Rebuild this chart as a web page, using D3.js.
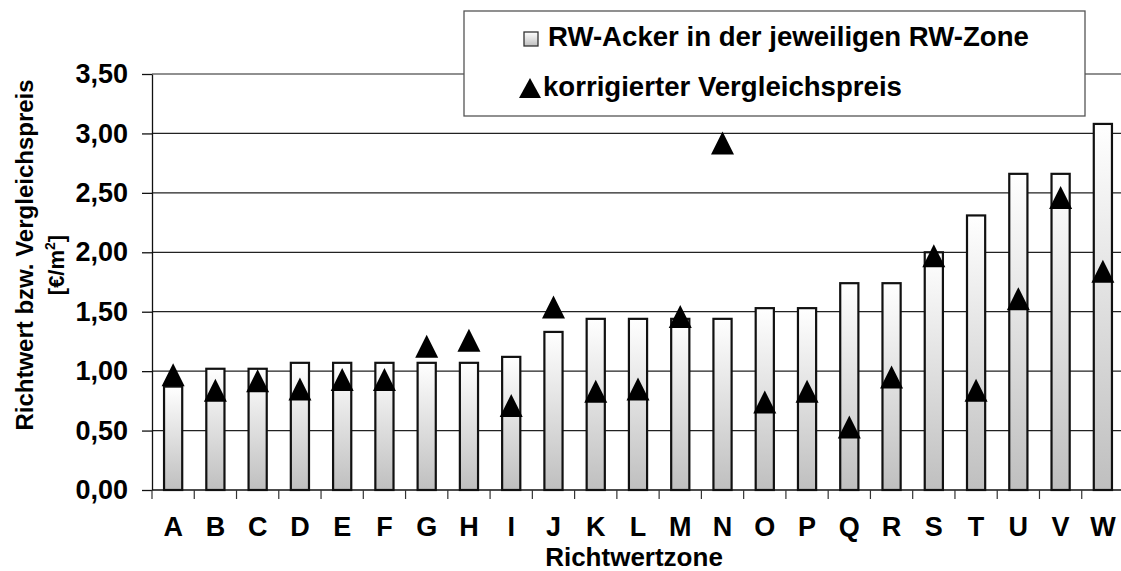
<!DOCTYPE html>
<html>
<head>
<meta charset="utf-8">
<script src="https://cdn.jsdelivr.net/npm/d3@7"></script>
<style>
  body { margin: 0; background: #fff; }
  svg { display: block; font-family: "Liberation Sans", Arial, sans-serif; font-weight: bold; }
</style>
</head>
<body>
<svg id="chart" width="1121" height="571"></svg>
<script>
// Richtwertzonen
var zones = ["A","B","C","D","E","F","G","H","I","J","K","L","M","N","O","P","Q","R","S","T","U","V","W"];
// RW-Acker (bars)
var rwAcker = [0.87,1.02,1.02,1.07,1.07,1.07,1.07,1.07,1.12,1.33,1.44,1.44,1.44,1.44,1.53,1.53,1.74,1.74,2.00,2.31,2.66,2.66,3.08];
// korrigierter Vergleichspreis (triangles)
var vergleich = [0.97,0.84,0.92,0.85,0.93,0.93,1.21,1.26,0.71,1.54,0.83,0.85,1.46,2.92,0.74,0.83,0.53,0.95,1.97,0.84,1.61,2.46,1.84];
var yTicks = [0,0.5,1,1.5,2,2.5,3,3.5];
var legendLabels = ["RW-Acker in der jeweiligen RW-Zone", "korrigierter Vergleichspreis"];

var W = 1121, H = 571;
var pLeft = 152, pRight = 1124, pTop = 74, pBottom = 490;

var svg = d3.select("#chart");

var defs = svg.append("defs");
var grad = defs.append("linearGradient")
    .attr("id","barGrad")
    .attr("x1",0).attr("y1",0).attr("x2",0).attr("y2",1);
grad.append("stop").attr("offset","0%").attr("stop-color","#ffffff");
grad.append("stop").attr("offset","100%").attr("stop-color","#bfbfbf");

var x = d3.scaleBand().domain(zones).range([pLeft, pRight])
    .paddingInner(0.57).paddingOuter(0.285);
var y = d3.scaleLinear().domain([0, 3.5]).range([pBottom, pTop]);

// gridlines
svg.append("g").selectAll("line").data(yTicks.slice(1)).join("line")
    .attr("x1", pLeft).attr("x2", W)
    .attr("y1", function(d){return y(d);}).attr("y2", function(d){return y(d);})
    .attr("stroke","#222").attr("stroke-width",1.2);

// y axis
var yAxis = svg.append("g").attr("transform","translate(" + pLeft + ",0)")
    .call(d3.axisLeft(y).tickValues(yTicks).tickSize(10).tickSizeOuter(0).tickPadding(14)
          .tickFormat(function(d){return d.toFixed(2).replace(".", ",");}));
yAxis.selectAll("line, path").attr("stroke","#111").attr("stroke-width",1.3);
yAxis.selectAll("text").attr("font-size",27).attr("fill","#000")
    .attr("font-family","Liberation Sans, Arial, sans-serif").attr("font-weight","bold");

// x axis line + boundary ticks
svg.append("line").attr("x1", pLeft).attr("x2", W).attr("y1", pBottom).attr("y2", pBottom)
    .attr("stroke","#111").attr("stroke-width",1.3);
var bounds = d3.range(zones.length + 1).map(function(i){ return pLeft + i * x.step(); });
svg.append("g").selectAll("line").data(bounds).join("line")
    .attr("x1", function(d){return d;}).attr("x2", function(d){return d;})
    .attr("y1", pBottom).attr("y2", pBottom + 9)
    .attr("stroke","#333").attr("stroke-width",1.2);

var xAxis = svg.append("g").attr("transform","translate(0," + pBottom + ")")
    .call(d3.axisBottom(x).tickSize(0).tickPadding(27));
xAxis.select(".domain").remove();
xAxis.selectAll("text").attr("font-size",27).attr("fill","#000")
    .attr("font-family","Liberation Sans, Arial, sans-serif").attr("font-weight","bold");

// bars
svg.append("g").selectAll("rect").data(zones).join("rect")
    .attr("x", function(d){return x(d);})
    .attr("y", function(d,i){return y(rwAcker[i]);})
    .attr("width", x.bandwidth())
    .attr("height", function(d,i){return pBottom - y(rwAcker[i]);})
    .attr("fill","url(#barGrad)")
    .attr("stroke","#111").attr("stroke-width",2.2);

// triangle markers
function tri(w, h){
    return "M0," + (-h/2) + "L" + (w/2) + "," + (h/2) + "L" + (-w/2) + "," + (h/2) + "Z";
}
svg.append("g").selectAll("path").data(zones).join("path")
    .attr("transform", function(d,i){
        return "translate(" + (x(d) + x.bandwidth()/2) + "," + y(vergleich[i]) + ")";
    })
    .attr("d", tri(23, 23))
    .attr("fill","#000");

// axis titles
svg.append("text")
    .attr("transform","translate(33,255) rotate(-90)")
    .attr("text-anchor","middle").attr("font-size",24)
    .text("Richtwert bzw. Vergleichspreis");
var unit = svg.append("text")
    .attr("transform","translate(64,265) rotate(-90)")
    .attr("text-anchor","middle").attr("font-size",22);
unit.append("tspan").text("[€/m");
unit.append("tspan").attr("font-size",14).attr("dy",-9).text("2");
unit.append("tspan").attr("dy",9).text("]");
svg.append("text")
    .attr("x", 634).attr("y", 566)
    .attr("text-anchor","middle").attr("font-size",26)
    .text("Richtwertzone");

// legend
var lg = svg.append("g");
lg.append("rect").attr("x",464).attr("y",11).attr("width",621).attr("height",105)
    .attr("fill","#fff").attr("stroke","#555").attr("stroke-width",1.3);
lg.append("rect").attr("x",524).attr("y",32).attr("width",14).attr("height",14)
    .attr("fill","url(#barGrad)").attr("stroke","#333").attr("stroke-width",1.3);
lg.append("path").attr("transform","translate(530,88)").attr("d", tri(22, 20)).attr("fill","#000");
lg.selectAll("text").data(legendLabels).join("text")
    .attr("x", function(d,i){return i == 0 ? 548 : 543;})
    .attr("y", function(d,i){return i == 0 ? 46 : 96;})
    .attr("font-size",27.6)
    .text(function(d){return d;});
</script>
</body>
</html>
